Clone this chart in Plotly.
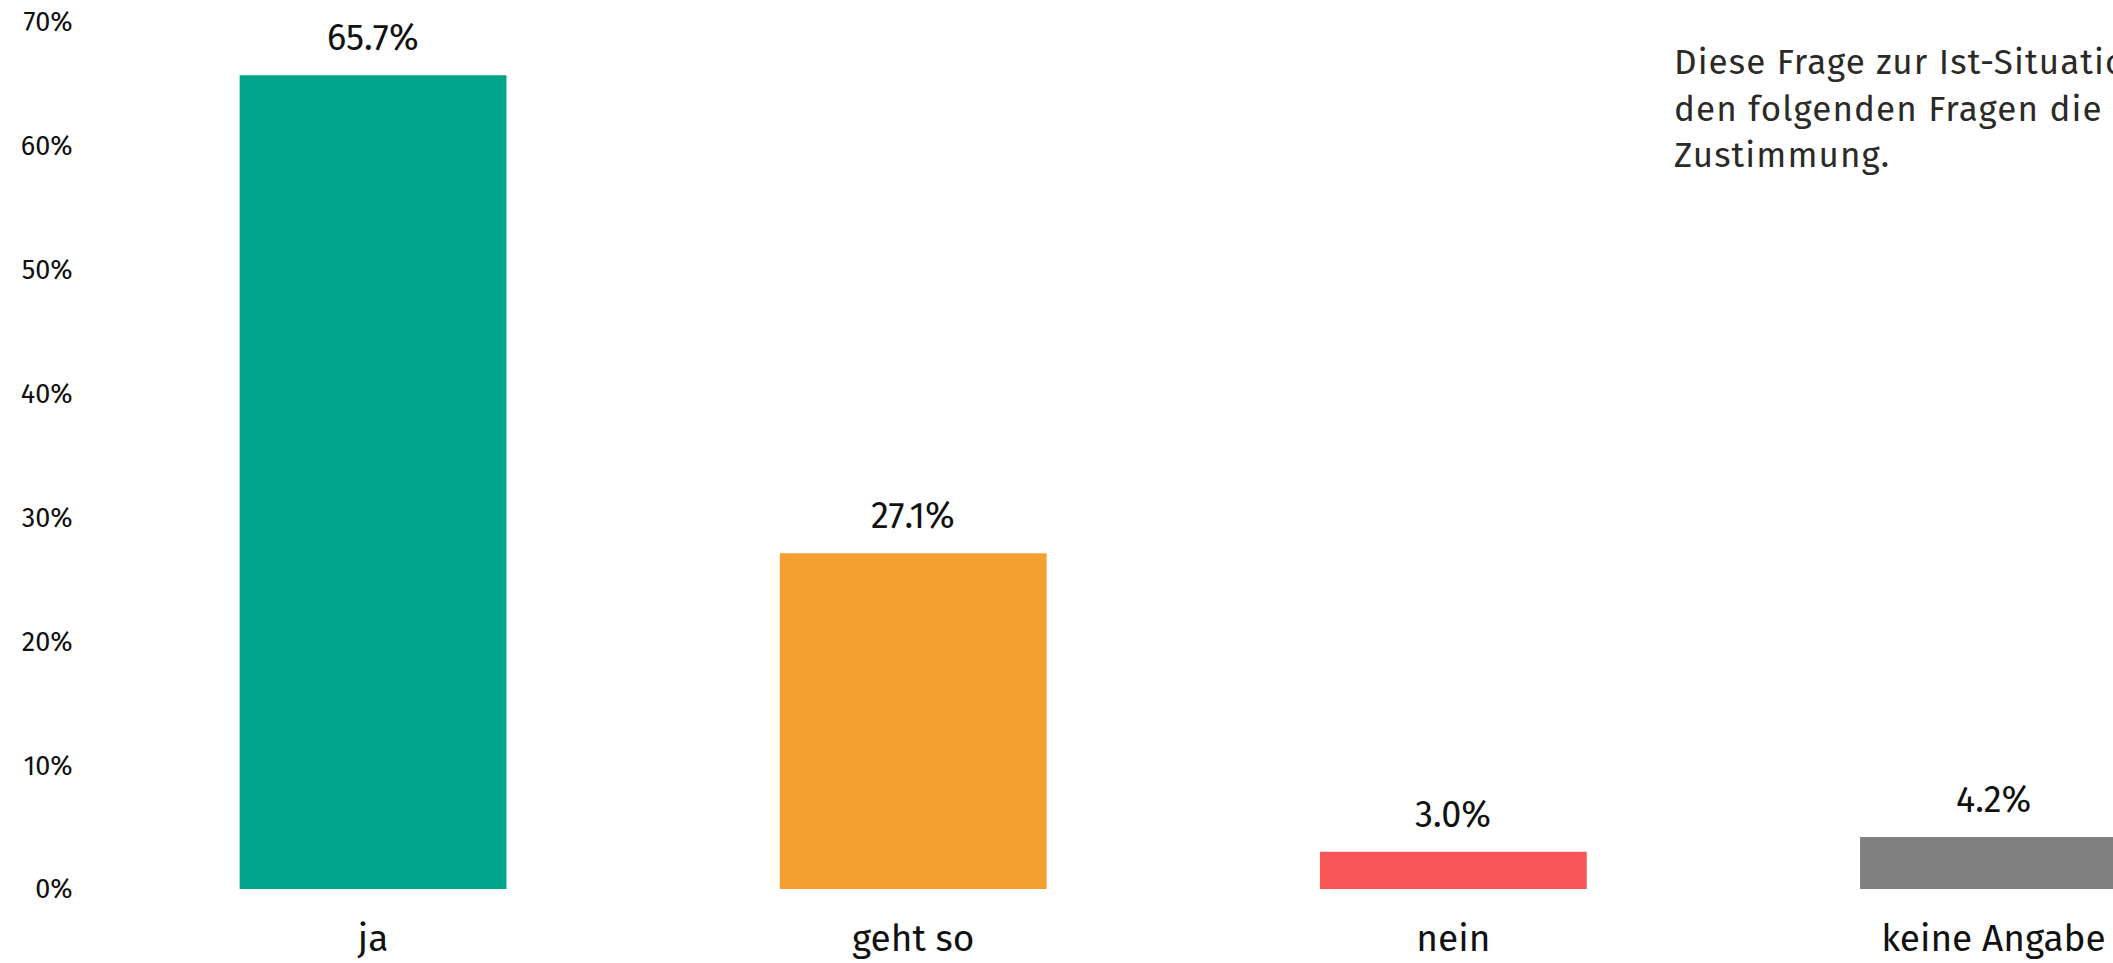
import plotly.graph_objects as go

# Survey answers and their shares (percent)
categories = ["ja", "geht so", "nein", "keine Angabe"]
shares = [65.7, 27.1, 3.0, 4.2]
bar_colors = ["#00A68B", "#F3A030", "#F95757", "#808080"]
y_tick_values = [0, 10, 20, 30, 40, 50, 60, 70]
y_tick_labels = [f"{v}%" for v in y_tick_values]
note_lines = [
    "Diese Frage zur Ist-Situation misst, anders als bei",
    "den folgenden Fragen die Zufriedenheit, nicht die",
    "Zustimmung.",
]

FONT = "Fira Sans, Lato, Roboto, sans-serif"
W, H = 2113, 963
M_L, M_R, M_T, M_B = 103, 0, 22, 74
PLOT_H = H - M_T - M_B

fig = go.Figure(
    go.Bar(
        x=categories,
        y=shares,
        marker=dict(color=bar_colors, line=dict(width=0)),
        hoverinfo="skip",
    )
)

# value labels above each bar
for cat, val in zip(categories, shares):
    fig.add_annotation(
        x=cat, y=val, xref="x", yref="y",
        text=f"{val:.1f}%", showarrow=False,
        yanchor="bottom", yshift=13,
        font=dict(family=FONT, size=36, color="#111111"),
    )

# explanatory note in the upper right, one annotation per line
note_centers_px = [62, 109, 155]
for line, yc in zip(note_lines, note_centers_px):
    fig.add_annotation(
        x=0.7806, y=(H - M_B - yc) / PLOT_H, xref="paper", yref="paper",
        xanchor="left", yanchor="middle", align="left",
        text=line, showarrow=False,
        font=dict(family=FONT, size=35, color="#2b2a27"),
    )

fig.update_layout(
    width=W, height=H,
    margin=dict(l=M_L, r=M_R, t=M_T, b=M_B),
    plot_bgcolor="white", paper_bgcolor="white",
    bargap=0.506,
    showlegend=False,
    font=dict(family=FONT, color="#111111"),
)
fig.update_xaxes(
    range=[-0.5, 3.2213],
    showgrid=False, zeroline=False, showline=False,
    ticks="outside", ticklen=17, tickcolor="rgba(0,0,0,0)",
    tickfont=dict(family=FONT, size=37, color="#111111"),
)
fig.update_yaxes(
    range=[0, 70],
    tickvals=y_tick_values, ticktext=y_tick_labels,
    showgrid=False, zeroline=False, showline=False,
    ticks="outside", ticklen=24, tickcolor="rgba(0,0,0,0)",
    tickfont=dict(family=FONT, size=27, color="#111111"),
)

# slightly widen the tracking of the note text
tracking_js = """
var gd = document.getElementById('{plot_id}');
var noteLines = %s;
function applyTracking() {
  gd.querySelectorAll('g.annotation text.annotation-text').forEach(function (t) {
    if (noteLines.indexOf(t.textContent) >= 0) { t.style.letterSpacing = '1.1px'; }
  });
}
applyTracking();
gd.on('plotly_afterplot', applyTracking);
""" % repr(note_lines).replace("'", '"')

fig.write_html("out.html", post_script=tracking_js)
